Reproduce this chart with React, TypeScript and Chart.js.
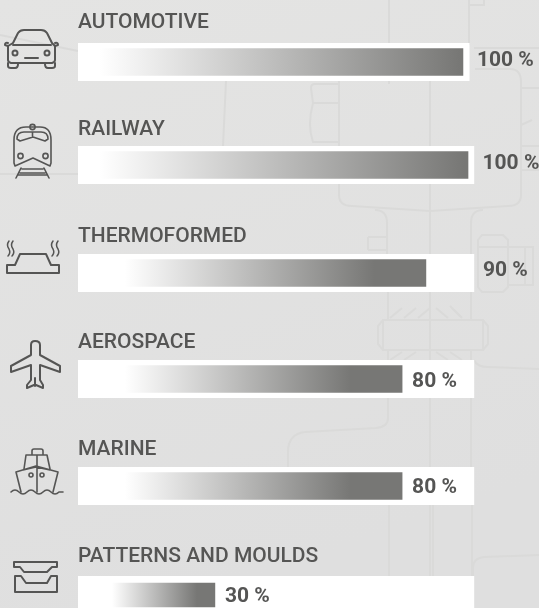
import React, { useEffect, useRef } from "react";
import { Chart, registerables } from "chart.js";

Chart.register(...registerables);

// ---- data ----
const categories = ["AUTOMOTIVE", "RAILWAY", "THERMOFORMED", "AEROSPACE", "MARINE", "PATTERNS AND MOULDS"];
const percentLabels = ["100 %", "100 %", "90 %", "80 %", "80 %", "30 %"];
const fillStart = [5.6, 5.6, 12, 12, 12, 8.7];
const fillEnd = [98.7, 100, 89.2, 83.1, 83.1, 35.1];
const solidFrom = [98, 99, 76, 70, 70, 30.5];
const panelEnd = [100.3, 101.5, 101.5, 101.5, 101.5, 101.5];

// ---- layout and style ----
const W = 539;
const H = 608;
const INK = "#555554";
const rowTop = [43, 146, 254, 360, 467, 576];
const titleGap = [15, 11, 12, 12, 12, 14];
const barHeight = [27, 27, 27, 27, 27, 24];
const labelGap = [14, 14.5, 57, 10, 10, 10];
const labelShift = [-1, -1, -2, 2.5, 1.5, 1.5];
const HEAD = 36;
const PANEL = 38;
const AXIS_MAX = 118.2;
const FONT = "Roboto, sans-serif";

const valueLabels = {
  id: "valueLabels",
  afterDatasetsDraw(chart: any, _a: any, opts: any) {
    const { ctx, chartArea, scales } = chart;
    ctx.save();
    ctx.font = `700 21px ${FONT}`;
    ctx.fillStyle = INK;
    ctx.textAlign = "left";
    ctx.textBaseline = "middle";
    const x = scales.x.getPixelForValue(opts.end) + opts.gap;
    const y = (chartArea.top + chartArea.bottom) / 2 + opts.shift;
    ctx.fillText(opts.text, x, y);
    ctx.restore();
  },
};

function Row({ i }: { i: number }) {
  const ref = useRef<HTMLCanvasElement | null>(null);
  useEffect(() => {
    const t = HEAD - 16 - titleGap[i];
    const chart = new Chart(ref.current as HTMLCanvasElement, {
      type: "bar",
      data: {
        labels: [categories[i]],
        datasets: [
          {
            label: "level",
            data: [[fillStart[i], fillEnd[i]]],
            grouped: false,
            order: 1,
            barThickness: barHeight[i],
            borderWidth: 0,
            backgroundColor: (c: any) => {
              const ch = c.chart;
              if (!ch.chartArea) return "#777775";
              const s = ch.scales.x;
              const g = ch.ctx.createLinearGradient(
                s.getPixelForValue(fillStart[i]), 0, s.getPixelForValue(solidFrom[i]), 0);
              g.addColorStop(0, "#ffffff");
              g.addColorStop(1, "#777775");
              return g;
            },
          },
          {
            label: "panel",
            data: [panelEnd[i]],
            grouped: false,
            order: 2,
            barThickness: PANEL,
            borderWidth: 0,
            backgroundColor: "#ffffff",
          },
        ],
      } as any,
      options: {
        indexAxis: "y",
        responsive: false,
        animation: false,
        layout: { padding: 0 },
        events: [],
        scales: {
          x: { type: "linear", min: 0, max: AXIS_MAX, display: false },
          y: { type: "category", display: false },
        },
        plugins: {
          legend: { display: false },
          tooltip: { enabled: false },
          title: {
            display: true,
            text: categories[i],
            align: "start",
            color: INK,
            font: { family: FONT, size: 21, weight: "500", lineHeight: 1 },
            padding: { top: t, bottom: HEAD - 21 - t },
          },
          valueLabels: {
            text: percentLabels[i],
            end: fillEnd[i],
            gap: labelGap[i],
            shift: labelShift[i],
          },
        },
      } as any,
      plugins: [valueLabels],
    });
    return () => chart.destroy();
  }, [i]);
  return (
    <canvas
      ref={ref}
      width={W - 78}
      height={HEAD + PANEL}
      style={{ position: "absolute", left: 78, top: rowTop[i] - HEAD, display: "block" }}
    />
  );
}

function Backdrop() {
  return (
    <svg width={W} height={H} style={{ position: "absolute", left: 0, top: 0 }}>
      <defs>
        <linearGradient id="bg" x1="0" y1="0" x2="0.3" y2="1">
          <stop offset="0" stopColor="#e4e4e3" />
          <stop offset="1" stopColor="#dfdfdf" />
        </linearGradient>
      </defs>
      <rect width={W} height={H} fill="url(#bg)" />
      <g fill="none" stroke="#dadad9" strokeWidth="2">
        <path d="M0 35 L78 51 M0 174 H78 M226 81 L223 146" />
        <path d="M389 0 V43 M469 0 V45 M469 5 H484 V0 M474 48 H539" />
        <path d="M430 81 V608 M389 81 V84 M475 69 H510 Q521 69 521 82 V195 Q521 206 508 206 L430 211 L352 206 Q339 206 339 195 V81" />
        <path d="M311 88 Q311 84 315 84 H339 M312 103 H339 M311 88 L313 103 Q307 125 313 142 H339" />
        <path d="M521 88 H539 M521 146 H539 M521 125 L532 120 M521 170 H539" />
        <path d="M387 254 V223 Q387 210 375 210 M471 254 V223 Q471 210 483 210" />
        <path d="M368 237 H387 M368 250 H387 M368 237 V250" />
        <path d="M478 240 L482 235 H503 L508 240 V287 L503 292 H482 L478 287 Z M478 247 H533 V285 H508 M525 247 V285" />
        <path d="M388 292 V320 M471 292 V320 M388 350 V360 M471 350 V360" />
        <path d="M383 320 H483 V350 H383 Z M383 320 L378 326 V344 L383 350 M483 320 L488 326 V344 L483 350" />
        <path d="M390 318 L402 308 M404 318 L416 308 M418 318 L430 308 M436 308 L448 318 M450 306 L462 318" />
        <path d="M390 360 L402 352 M404 360 L416 352 M436 352 L448 360 M450 352 L462 360" />
        <path d="M388 398 V418 Q388 427 376 428 L305 432 Q288 434 288 452 V467 M471 398 V467" />
        <path d="M389 505 V576 M472 505 V576 M433 505 V576" />
        <path d="M474 360 Q477 367 488 367 L539 369 M473 576 V568 Q473 558 484 557 L539 555" />
      </g>
    </svg>
  );
}

function Icons() {
  return (
    <svg width={78} height={H} style={{ position: "absolute", left: 0, top: 0 }}>
      <g fill="none" stroke={INK} strokeWidth="2" strokeLinejoin="round" strokeLinecap="round">
        {/* car */}
        <path d="M8 46 L13 43 L18 33 Q20 30 24 30 H41 Q45 30 47 33 L52 43 L55 46 V60 Q55 62 52 63 H11 Q8 62 8 60 Z" />
        <path d="M13 45 H51 M8 43 Q5 42 5 45 L8 46 M55 43 Q58 42 58 45 L55 46" />
        <path d="M8 63 V66 Q8 68 11 68 H15 Q18 68 18 64 M45 64 Q45 68 48 68 H52 Q55 68 55 66 V63 M25 58 H38" />
        <circle cx="15" cy="53" r="2.5" />
        <circle cx="47" cy="53" r="2.5" />
        {/* train */}
        <g strokeWidth="1.6">
          <path d="M14 140 Q14 127 26 127 H40 Q51 127 51 140 V163 L50 166 L33 158 L15 166 L14 163 Z" />
          <path d="M17 139 Q17 132 24 132 H41 Q48 132 48 139 L45 141 L33 137 L20 141 Z M32.5 132 V137" />
          <circle cx="32.5" cy="127" r="2.6" />
          <circle cx="20.5" cy="156" r="2.6" />
          <circle cx="45.5" cy="156" r="2.6" />
          <path d="M22 169 H43 M20 173 H45 M16 178 L21 168 M49 178 L44 168 M18 175 H47" />
        </g>
        {/* thermoformed */}
        <path d="M7 265 H15 L20 254 H46 L51 265 H59 V273 H7 Z" />
        <path d="M9 241 Q6 245 9 249 Q11 253 8 256 M13 241 Q10 245 13 249 Q15 253 12 256 M53 241 Q50 245 53 249 Q55 253 52 256 M58 241 Q55 245 58 249 Q60 253 57 256" strokeWidth="1.5" />
        {/* plane */}
        <path d="M31 355 V345 Q31 341 35 341 Q40 341 40 345 V355 L60 366 V372 L40 365 V380 L43 385 L43 388 L36 385 L34 385 L27 388 L27 385 L31 380 V365 L11 372 V366 L31 355" />
        <path d="M35 378 V386" />
        {/* ship */}
        <g strokeWidth="1.6">
          <path d="M32 455 V451 Q32 449 34 449 H41 Q43 449 43 451 V455 M26 455 H47 L50 469 M26 455 L24 469 M37 455 V466" />
          <path d="M16 472 L36 466 L58 472 L53 492 M16 472 L21 492 M23 470 L36 467 L50 470 M37 467 V492" />
          <circle cx="31" cy="475" r="2" />
          <circle cx="42" cy="475" r="2" />
          <path d="M11 492 Q15 488 19 492 T27 492 T35 492 T43 492 T51 492 T59 492 L63 492" />
        </g>
        {/* trays */}
        <path d="M14 562 H57 V567 H52 L47 572 H24 L20 567 H14 Z" />
        <path d="M15 576 H21 L26 583 H47 L51 576 H57 V592 H15 Z" />
      </g>
    </svg>
  );
}

export default function App() {
  useEffect(() => {
    document.body.style.margin = "0";
    document.body.style.overflow = "hidden";
  }, []);
  return (
    <div style={{ position: "absolute", left: 0, top: 0, width: W, height: H, overflow: "hidden" }}>
      <Backdrop />
      <Icons />
      {categories.map((_, i) => (
        <Row key={i} i={i} />
      ))}
    </div>
  );
}
